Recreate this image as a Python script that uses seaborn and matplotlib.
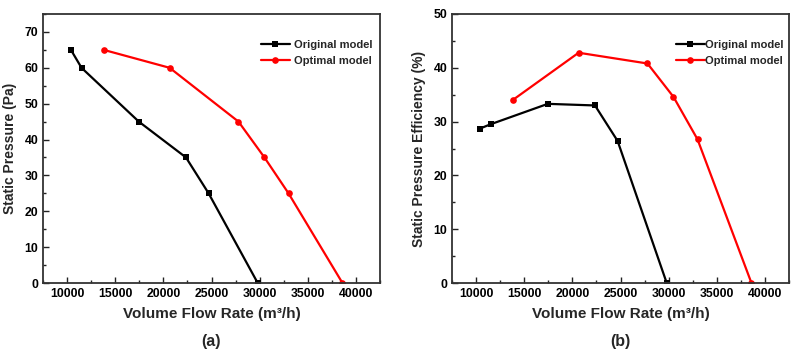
import pandas as pd
import numpy as np
import matplotlib
matplotlib.use("Agg")
import matplotlib.pyplot as plt
import seaborn as sns
from matplotlib.ticker import MultipleLocator

# data
orig_flow = [10400, 11500, 17450, 22350, 24700, 29800]
opt_flow = [13800, 20650, 27800, 30500, 33000, 38600]
orig_pressure = [65, 60, 45, 35, 25, 0]
opt_pressure = [65, 60, 45, 35, 25, 0]
orig_eff = [28.7, 29.5, 33.3, 33.0, 26.4, 0]
opt_eff = [34.0, 42.8, 40.8, 34.6, 26.7, 0]
models = ['Original model', 'Optimal model']

df = pd.DataFrame({
    'Flow': orig_flow + opt_flow,
    'Pressure': orig_pressure + opt_pressure,
    'Efficiency': orig_eff + opt_eff,
    'Model': [models[0]] * len(orig_flow) + [models[1]] * len(opt_flow),
})

sns.set_style("white")
plt.rcParams['font.family'] = ['Liberation Sans', 'DejaVu Sans']
plt.rcParams['font.weight'] = 'bold'
plt.rcParams['axes.labelweight'] = 'bold'

W, H = 798, 353
fig = plt.figure(figsize=(W / 100, H / 100), dpi=100)

palette = {models[0]: 'black', models[1]: '#ff0000'}
markers = {models[0]: 's', models[1]: 'o'}


def px_axes(left, top, right, bottom):
    return fig.add_axes([left / W, 1 - bottom / H, (right - left) / W, (bottom - top) / H])


def draw_panel(ax, ycol, ylabel, ylim, legend_pos, textpad, letter):
    sns.lineplot(data=df, x='Flow', y=ycol, hue='Model', style='Model',
                 markers=markers, dashes=False, palette=palette, estimator=None,
                 sort=False, linewidth=1.6, markersize=4.8, markeredgewidth=0,
                 ax=ax)
    ax.set_xlim(7500, 42500)
    ax.set_ylim(*ylim)
    ax.xaxis.set_major_locator(MultipleLocator(5000))
    ax.xaxis.set_minor_locator(MultipleLocator(2500))
    ax.yaxis.set_major_locator(MultipleLocator(10))
    ax.yaxis.set_minor_locator(MultipleLocator(5))
    ax.tick_params(which='both', direction='in', top=False, right=False,
                   bottom=True, left=True, labelsize=8.8, width=1, colors='#222222')
    ax.tick_params(which='major', length=4)
    ax.tick_params(which='minor', length=2)
    for lab in ax.get_xticklabels() + ax.get_yticklabels():
        lab.set_fontweight('bold')
        lab.set_color('black')
    for s in ax.spines.values():
        s.set_linewidth(1.3)
        s.set_color('#333333')
    ax.set_xlabel('Volume Flow Rate (m³/h)', fontsize=11, labelpad=5)
    ax.set_ylabel(ylabel, fontsize=10, labelpad=5)
    handles, labels = ax.get_legend_handles_labels()
    ax.legend(handles, labels, loc='upper left', bbox_to_anchor=legend_pos,
              frameon=False, fontsize=8, handlelength=2.6, handletextpad=textpad,
              labelspacing=0.55, borderpad=0)
    ax.text(0.5, -0.19, letter, transform=ax.transAxes, ha='center', va='top',
            fontsize=11.5, fontweight='bold')


ax1 = px_axes(43, 14, 380, 283)
draw_panel(ax1, 'Pressure', 'Static Pressure (Pa)', (0, 75), (0.63, 0.925), 0.35, '(a)')

ax2 = px_axes(452, 14, 789, 283)
draw_panel(ax2, 'Efficiency', 'Static Pressure Efficiency (%)', (0, 50), (0.648, 0.925), 0.05, '(b)')

fig.savefig('out.png', dpi=100)
